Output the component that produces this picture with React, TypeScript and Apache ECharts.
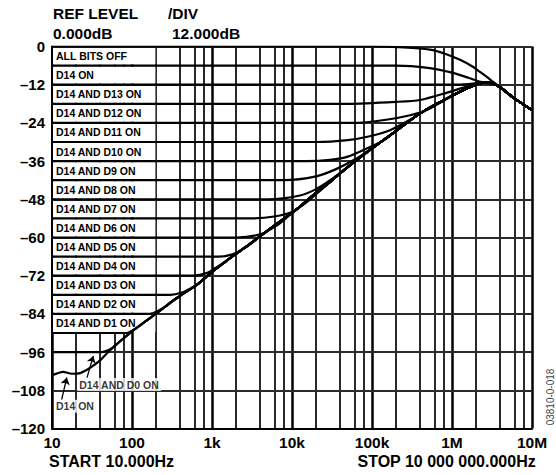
import React, { useEffect, useRef } from 'react';
import * as echarts from 'echarts';

const FONT = 'Arial, "Liberation Sans", Helvetica, sans-serif';

// Axis ticks
const xTickValues = [10, 100, 1e3, 1e4, 1e5, 1e6, 1e7];
const xTickLabels = ['10', '100', '1k', '10k', '100k', '1M', '10M'];
const decadeLines = [10, 100, 1e3, 1e4, 1e5, 1e6, 1e7];
const minorLines = [
  20, 40, 60, 80, 200, 400, 600, 800, 2e3, 4e3, 6e3, 8e3, 2e4, 4e4, 6e4, 8e4,
  2e5, 4e5, 6e5, 8e5, 2e6, 4e6, 6e6, 8e6,
];

// Label boxes (one per flat level)
const boxLabels = [
  'ALL BITS OFF', 'D14 ON', 'D14 AND D13 ON', 'D14 AND D12 ON', 'D14 AND D11 ON',
  'D14 AND D10 ON', 'D14 AND D9 ON', 'D14 AND D8 ON', 'D14 AND D7 ON', 'D14 AND D6 ON',
  'D14 AND D5 ON', 'D14 AND D4 ON', 'D14 AND D3 ON', 'D14 AND D2 ON', 'D14 AND D1 ON',
];
const boxLevels = [0, -6, -12, -18, -24, -30, -36, -42, -48, -54, -60, -66, -72, -78, -84];

// Shared rising envelope, Hz / dB
const envelope: number[][] = [
  [60, -94.2], [75, -92.1], [100, -89.5], [150, -86.2], [224, -83], [300, -80.5],
  [400, -78.3], [650, -74.8], [1000, -70.8], [1400, -68], [1830, -65.8], [2700, -62.8],
  [4000, -59.6], [5500, -57], [7700, -54.3], [12600, -50.3], [20000, -45.9],
  [30000, -42.5], [50000, -37.8], [100000, -32], [200000, -26.5], [400000, -21],
  [870000, -16.3], [1500000, -13.3], [2000000, -12], [2600000, -11.3],
  [3200000, -11.6], [4000000, -12.8], [5770000, -16], [10000000, -20],
];

// Individual curves
const curveAllOff: number[][] = [
  [10, 0], [100000, 0], [250000, -0.3], [530000, -1], [800000, -2.2], [1260000, -4.2],
  [1800000, -6.3], [2240000, -8], [2800000, -9.8], [3300000, -11.2], [4000000, -12.8],
  [5770000, -16], [10000000, -20],
];
const kneeD14: number[][] = [[10, -6], [200000, -6], [500000, -6.7], [1000000, -8.2], [1600000, -9.8], [2200000, -11], [2800000, -11.5]];
const kneeD13: number[][] = [[10, -12], [1000000, -12], [1600000, -11.8], [2200000, -11.4]];
const kneeD12: number[][] = [[10, -18], [50000, -18], [200000, -17.4], [400000, -16.8], [870000, -14.5], [1600000, -12.4], [2200000, -11.5]];
const kneeD11: number[][] = [[10, -24], [60000, -24], [150000, -23], [300000, -21.6], [500000, -19.8], [870000, -16.4]];
const kneeD10: number[][] = [[10, -30], [20000, -30], [50000, -29.4], [94000, -28.2], [168000, -26.3], [300000, -23]];
const kneeD9: number[][] = [[10, -36], [15000, -36], [30000, -35.6], [50000, -34.6], [94000, -31.6], [150000, -29]];
const kneeD8: number[][] = [[10, -42], [8000, -42], [20000, -40.8], [35000, -38.6], [60000, -35.6]];
const kneeD7: number[][] = [[10, -48], [5000, -48], [12600, -46.8], [20000, -44.8], [30000, -42]];
const kneeD6: number[][] = [[10, -54], [3000, -54], [6000, -53.4], [10300, -51.8], [16000, -48.5], [22000, -45.5]];
const kneeD5: number[][] = [[10, -60], [2000, -60], [4000, -59], [6500, -56.2], [9000, -53.3]];
const kneeD4: number[][] = [[10, -66], [1200, -66], [1800, -65.3], [2500, -63.5], [3200, -61.6]];
const kneeD3: number[][] = [[10, -72], [600, -72], [850, -71.2], [1100, -69.6]];
const kneeD2: number[][] = [[10, -78], [300, -78], [420, -77.3], [560, -75.8]];
const kneeD1: number[][] = [[10, -84], [150, -84], [185, -83.7], [240, -82.3]];
const kneeM90: number[][] = [[10, -90], [85, -90], [115, -88.4]];
const kneeD0: number[][] = [[10, -96], [42, -96], [52, -95.3]];
const kneeLow: number[][] = [[10, -103.3], [13.8, -102.2], [17.6, -102.8], [22.4, -102.6], [30, -100.9], [40, -98.6], [48, -96.5]];

const kneeCurves = [kneeD14, kneeD13, kneeD12, kneeD11, kneeD10, kneeD9, kneeD8, kneeD7, kneeD6, kneeD5, kneeD4, kneeD3, kneeD2, kneeD1, kneeM90, kneeD0, kneeLow];

// Annotations
const noteTexts = ['D14 AND D0 ON', 'D14 ON'];
const notePoints: number[][] = [[20.7, -106.2], [10.6, -113]];
const arrowLines: number[][][] = [
  [[27.4, -104], [32.8, -97.2]],
  [[13.2, -110.9], [15.3, -104]],
];

function withEnvelope(knee: number[][]): number[][] {
  const lastF = knee[knee.length - 1][0];
  return knee.concat(envelope.filter((p) => p[0] > lastF));
}

export default function App() {
  const ref = useRef<HTMLDivElement>(null);

  useEffect(() => {
    if (!ref.current) return;
    const chart = echarts.init(ref.current, undefined, { renderer: 'svg' });

    const curveStyle = { color: '#000', width: 2.2 };
    const curveSeries: any[] = [curveAllOff, ...kneeCurves.map(withEnvelope)].map((d) => ({
      type: 'line',
      data: d,
      showSymbol: false,
      symbol: 'none',
      smooth: 0.25,
      silent: true,
      z: 5,
      lineStyle: curveStyle,
    }));

    const option: any = {
      animation: false,
      backgroundColor: '#fff',
      grid: { left: 52, right: 24, top: 46.5, bottom: 46.5, containLabel: false },
      xAxis: {
        type: 'log',
        logBase: 10,
        min: 10,
        max: 1e7,
        splitNumber: 6,
        z: 4,
        axisLine: { show: true, onZero: false, lineStyle: { color: '#000', width: 2 } },
        axisTick: { show: false },
        splitLine: { show: false },
        axisLabel: {
          margin: 6,
          fontSize: 15.5,
          fontWeight: 'bold',
          color: '#000',
          fontFamily: FONT,
          showMinLabel: true,
          showMaxLabel: true,
          formatter: (v: number) => {
            const i = xTickValues.findIndex((t) => Math.abs(Math.log10(t) - Math.log10(v)) < 1e-6);
            return i >= 0 ? xTickLabels[i] : '';
          },
        },
      },
      yAxis: {
        type: 'value',
        min: -120,
        max: 0,
        interval: 12,
        z: 4,
        axisLine: { show: true, onZero: false, lineStyle: { color: '#000', width: 2 } },
        axisTick: { show: false },
        splitLine: { show: true, lineStyle: { color: '#2a2a2a', width: 2 } },
        axisLabel: {
          margin: 7,
          fontSize: 15,
          fontWeight: 'bold',
          color: '#000',
          fontFamily: FONT,
          formatter: (v: number) => (v === 0 ? '0' : '\u2013' + Math.abs(v)),
        },
      },
      graphic: [
        { type: 'text', left: 53, top: 5, style: { text: 'REF LEVEL', font: `bold 15.5px ${FONT}`, fill: '#000' } },
        { type: 'text', left: 53, top: 25, style: { text: '0.000dB', font: `bold 15.5px ${FONT}`, fill: '#000' } },
        { type: 'text', left: 168, top: 5, style: { text: '/DIV', font: `bold 15.5px ${FONT}`, fill: '#000' } },
        { type: 'text', left: 172, top: 25, style: { text: '12.000dB', font: `bold 15.5px ${FONT}`, fill: '#000' } },
        { type: 'text', left: 49, top: 453, style: { text: 'START 10.000Hz', font: `bold 16px ${FONT}`, fill: '#000' } },
        { type: 'text', right: 20, top: 453, style: { text: 'STOP 10 000 000.000Hz', font: `bold 16px ${FONT}`, fill: '#000' } },
        {
          type: 'text',
          x: 550,
          y: 397,
          rotation: Math.PI / 2,
          style: { text: '03810-0-018', font: `10px ${FONT}`, fill: '#444', align: 'center', verticalAlign: 'middle' },
        },
      ],
      series: [
        {
          type: 'line',
          data: [],
          silent: true,
          z: 1,
          markLine: {
            silent: true,
            z: 1,
            symbol: ['none', 'none'],
            label: { show: false },
            data: [
              ...minorLines.map((f) => ({ xAxis: f, lineStyle: { color: '#2a2a2a', width: 2, type: 'solid' } })),
              ...decadeLines.map((f) => ({ xAxis: f, lineStyle: { color: '#000', width: 2.5, type: 'solid' } })),
            ],
          },
        },
        {
          type: 'line',
          data: [],
          silent: true,
          z: 3,
          markArea: {
            silent: true,
            z: 3,
            itemStyle: { color: '#fff', opacity: 1 },
            label: {
              show: true,
              position: 'insideLeft',
              distance: 4,
              fontSize: 10.5,
              fontWeight: 'bold',
              color: '#000',
              fontFamily: FONT,
            },
            data: boxLevels.map((L, i) => [
              { name: boxLabels[i], xAxis: 10, yAxis: L - 0.35 },
              { xAxis: 196, yAxis: L - 5.65 },
            ]),
          },
        },
        ...curveSeries,
        {
          type: 'scatter',
          data: notePoints,
          symbolSize: 0,
          silent: true,
          z: 6,
          label: {
            show: true,
            position: 'right',
            distance: 0,
            fontSize: 10.5,
            fontWeight: 'bold',
            color: '#000',
            fontFamily: FONT,
            backgroundColor: '#fff',
            padding: [1, 2],
            formatter: (p: any) => noteTexts[p.dataIndex],
          },
        },
        {
          type: 'line',
          data: [],
          silent: true,
          z: 6,
          markLine: {
            silent: true,
            z: 6,
            symbol: ['none', 'arrow'],
            symbolSize: 7,
            label: { show: false },
            lineStyle: { color: '#000', width: 1.3, type: 'solid' },
            data: arrowLines.map((a) => [{ coord: a[0] }, { coord: a[1] }]),
          },
        },
      ],
    };

    chart.setOption(option);
    return () => chart.dispose();
  }, []);

  return (
    <div
      ref={ref}
      style={{ position: 'absolute', left: 0, top: 0, width: 556, height: 475, background: '#fff' }}
    />
  );
}
